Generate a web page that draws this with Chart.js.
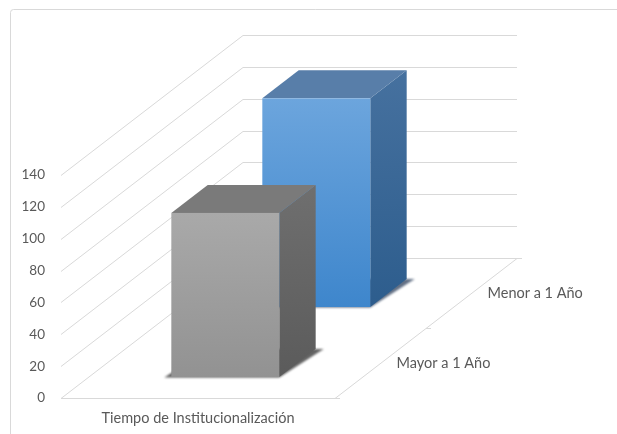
<!DOCTYPE html>
<html>
<head>
<meta charset="utf-8">
<script src="https://cdn.jsdelivr.net/npm/chart.js@4"></script>
<style>
  html, body { margin: 0; padding: 0; background: #ffffff; }
  #wrap { width: 617px; height: 434px; position: relative; }
</style>
</head>
<body>
<div id="wrap"><canvas id="c" width="617" height="434"></canvas></div>
<script>
// Categories, series and values
const categories = ['Tiempo de Institucionalización'];
const seriesNames = ['Mayor a 1 Año', 'Menor a 1 Año'];
const mayorValues = [103];
const menorValues = [131];
const yMax = 140;
const yStep = 20;

// Look of each series: front face gradient, side and top faces
const seriesStyles = [
  { frontTop: '#a9a9a9', frontBottom: '#929292', sideTop: '#6f6f6f', sideBottom: '#5b5b5b', top: '#7a7a7a', shadow: 'rgba(45,45,45,0.75)' },
  { frontTop: '#6ca5dd', frontBottom: '#3e86cc', sideTop: '#46719f', sideBottom: '#2d5d8d', top: '#587ea9', shadow: 'rgba(30,50,80,0.7)' }
];

// Oblique projection vector from the front plane to the back wall
const DEPTH = { x: 182, y: -140 };
const ROW_HALF_DEPTH = 0.1;   // half of a bar's depth, as a fraction of the floor depth
const GRID = '#d9d9d9';
const FONT = 'Lato, "Open Sans", sans-serif';

function rowCenter(i, n) { return (i + 0.5) / n; }

const walls3d = {
  id: 'walls3d',
  beforeDatasetsDraw(chart) {
    const { ctx, chartArea: a, scales: { y } } = chart;
    const y0 = y.getPixelForValue(0);
    ctx.save();
    ctx.lineWidth = 1;
    ctx.strokeStyle = GRID;
    // Left wall and back wall grid lines
    y.ticks.forEach(t => {
      const py = Math.round(y.getPixelForValue(t.value)) + 0.5;
      ctx.beginPath();
      ctx.moveTo(a.left, py);
      ctx.lineTo(a.left + DEPTH.x, py + DEPTH.y);
      ctx.lineTo(a.right + DEPTH.x, py + DEPTH.y);
      ctx.stroke();
    });
    // Floor front and right edges
    const fy = Math.round(y0) + 0.5;
    ctx.beginPath();
    ctx.moveTo(a.left, fy);
    ctx.lineTo(a.right, fy);
    ctx.lineTo(a.right + DEPTH.x, fy + DEPTH.y);
    ctx.stroke();
    // Depth axis tick marks and series names
    const n = seriesNames.length;
    for (let k = 0; k <= n; k++) {
      const d = k / n;
      const px = a.right + DEPTH.x * d, py = fy + DEPTH.y * d;
      ctx.beginPath();
      ctx.moveTo(px, py);
      ctx.lineTo(px + 5, py);
      ctx.stroke();
    }
    ctx.fillStyle = '#595959';
    ctx.font = '14.5px ' + FONT;
    ctx.textAlign = 'left';
    ctx.textBaseline = 'middle';
    seriesNames.forEach((name, i) => {
      const d = rowCenter(i, n);
      ctx.fillText(name, a.right + DEPTH.x * d + 16, y0 + DEPTH.y * d);
    });
    ctx.restore();
  },
  afterDatasetsDraw(chart) {
    const { ctx, scales: { y } } = chart;
    const n = chart.data.datasets.length;
    // Back rows first so the front rows cover them
    for (let i = n - 1; i >= 0; i--) {
      const meta = chart.getDatasetMeta(i);
      const st = seriesStyles[i];
      meta.data.forEach((bar, j) => {
        const v = chart.data.datasets[i].data[j];
        const dF = rowCenter(i, n) - ROW_HALF_DEPTH;
        const dB = rowCenter(i, n) + ROW_HALF_DEPTH;
        const ox = DEPTH.x * dF, oy = DEPTH.y * dF;
        const bx = DEPTH.x * (dB - dF), by = DEPTH.y * (dB - dF);
        const x1 = bar.x - bar.width / 2 + ox;
        const x2 = bar.x + bar.width / 2 + ox;
        const yb = y.getPixelForValue(0) + oy;
        const yt = y.getPixelForValue(v) + oy;

        // Soft shadow on the floor under the bar
        ctx.save();
        ctx.filter = 'blur(1px)';
        ctx.fillStyle = st.shadow;
        ctx.beginPath();
        ctx.moveTo(x1 - 7, yb + 0.5);
        ctx.lineTo(x2, yb + 0.5);
        ctx.lineTo(x2 + bx + 8, yb + by);
        ctx.lineTo(x1 + bx, yb + by);
        ctx.closePath();
        ctx.fill();
        ctx.restore();

        ctx.save();
        // Side face
        let g = ctx.createLinearGradient(0, yt + by, 0, yb);
        g.addColorStop(0, st.sideTop);
        g.addColorStop(1, st.sideBottom);
        ctx.fillStyle = g;
        ctx.beginPath();
        ctx.moveTo(x2, yt);
        ctx.lineTo(x2 + bx, yt + by);
        ctx.lineTo(x2 + bx, yb + by);
        ctx.lineTo(x2, yb);
        ctx.closePath();
        ctx.fill();
        // Top face
        ctx.fillStyle = st.top;
        ctx.beginPath();
        ctx.moveTo(x1, yt);
        ctx.lineTo(x1 + bx, yt + by);
        ctx.lineTo(x2 + bx, yt + by);
        ctx.lineTo(x2, yt);
        ctx.closePath();
        ctx.fill();
        // Front face
        g = ctx.createLinearGradient(0, yt, 0, yb);
        g.addColorStop(0, st.frontTop);
        g.addColorStop(1, st.frontBottom);
        ctx.fillStyle = g;
        ctx.fillRect(x1, yt, x2 - x1, yb - yt);
        ctx.restore();
      });
    }
  }
};

const frame = {
  id: 'frame',
  beforeDraw(chart) {
    const { ctx } = chart;
    ctx.save();
    ctx.fillStyle = '#ffffff';
    ctx.fillRect(0, 0, chart.width, chart.height);
    ctx.strokeStyle = '#d9d9d9';
    ctx.lineWidth = 1;
    ctx.beginPath();
    ctx.roundRect(10.5, 9.5, 640, 460, 3);
    ctx.stroke();
    ctx.restore();
  }
};

new Chart(document.getElementById('c'), {
  type: 'bar',
  data: {
    labels: categories,
    datasets: [
      { label: seriesNames[0], data: mayorValues, backgroundColor: 'rgba(0,0,0,0)', borderWidth: 0 },
      { label: seriesNames[1], data: menorValues, backgroundColor: 'rgba(0,0,0,0)', borderWidth: 0 }
    ]
  },
  options: {
    responsive: false,
    animation: false,
    events: [],
    layout: { padding: { left: 0, top: 175, right: 282, bottom: 0 } },
    datasets: {
      bar: {
        grouped: false,
        barPercentage: 0.394,
        categoryPercentage: 1
      }
    },
    plugins: { colors: { enabled: false }, legend: { display: false }, tooltip: { enabled: false } },
    scales: {
      x: {
        grid: { display: false, drawTicks: false },
        border: { display: false },
        ticks: { color: '#595959', font: { family: FONT, size: 14.5 }, padding: 12 },
        afterFit(s) { s.height = 36; }
      },
      y: {
        min: 0,
        max: yMax,
        grid: { display: false, drawTicks: false },
        border: { display: false },
        ticks: { stepSize: yStep, color: '#595959', font: { family: FONT, size: 13.5 }, padding: 16 },
        afterFit(s) { s.width = 61; }
      }
    }
  },
  plugins: [frame, walls3d]
});
</script>
</body>
</html>
